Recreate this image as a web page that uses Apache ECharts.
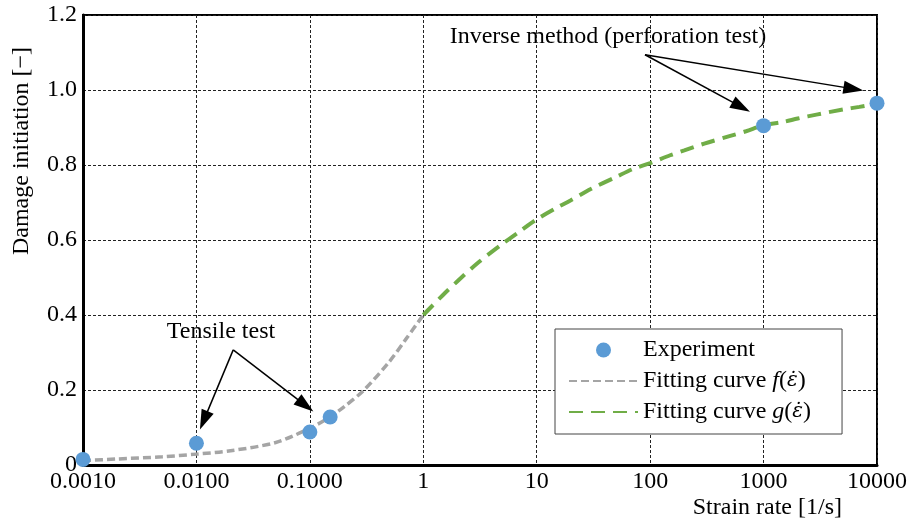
<!DOCTYPE html>
<html>
<head>
<meta charset="utf-8">
<script src="https://cdn.jsdelivr.net/npm/echarts@6/dist/echarts.min.js"></script>
<style>
  html, body { margin: 0; padding: 0; background: #fff; }
  #chart { width: 910px; height: 524px; }
</style>
</head>
<body>
<div id="chart"></div>
<script>
// Measured damage initiation at each strain rate
const expRate   = [0.001, 0.01, 0.1, 0.151, 1000, 10000];
const expDamage = [0.015, 0.058, 0.088, 0.128, 0.905, 0.965];

// Fitting curve f (quasi-static range, up to 1/s)
const fRate  = [0.001, 0.002, 0.005, 0.01, 0.02, 0.05, 0.1, 0.15, 0.2, 0.3, 0.5, 0.7, 1];
const fValue = [0.012, 0.016, 0.022, 0.029, 0.038, 0.060, 0.098, 0.128, 0.155, 0.200, 0.275, 0.335, 0.400];

// Fitting curve g (dynamic range, from 1/s)
const gRate  = [1, 1.5, 2, 3, 5, 7, 10, 15, 20, 30, 50, 70, 100, 150, 200, 300, 500, 700, 1000, 1500, 2000, 3000, 5000, 7000, 10000];
const gValue = [0.400, 0.454, 0.490, 0.538, 0.590, 0.622, 0.655, 0.686, 0.706, 0.736, 0.768, 0.789, 0.805, 0.826, 0.839, 0.857, 0.877, 0.890, 0.906, 0.915, 0.924, 0.935, 0.948, 0.955, 0.964];

// Axis tick labels
const xTickLabels = ['0.0010', '0.0100', '0.1000', '1', '10', '100', '1000', '10000'];
const yTickLabels = ['0', '0.2', '0.4', '0.6', '0.8', '1.0', '1.2'];

// Annotation arrows: tail and arrowhead centre in (strain rate, damage)
const tensileFrom = [0.0211, 0.307];
const tensileTo   = [[0.01161, 0.119], [0.0914, 0.159]];
const inverseFrom = [90.1, 1.094];
const inverseTo   = [[635, 0.955], [6194, 1.003]];

const FONT = 'Liberation Serif';
const FS = 24;
const zip = (xs, ys) => xs.map((x, i) => [x, ys[i]]);

const arrowLines = []
  .concat(tensileTo.map(t => [{ coord: tensileFrom }, { coord: t }]))
  .concat(inverseTo.map(t => [{ coord: inverseFrom }, { coord: t }]));

const chart = echarts.init(document.getElementById('chart'), null, { renderer: 'canvas' });

const gridStyle = { color: '#222', width: 1, type: [3, 2] };
const textFont = FS + 'px "' + FONT + '"';
const hiddenIcon = { color: 'rgba(0,0,0,0)', borderWidth: 0, opacity: 0 };

chart.setOption({
  animation: false,
  backgroundColor: '#fff',
  textStyle: { fontFamily: FONT },
  grid: {
    left: 83, right: 33, top: 15, bottom: 59,
    show: true, borderColor: '#000', borderWidth: 2, backgroundColor: 'transparent'
  },
  xAxis: {
    type: 'log',
    logBase: 10,
    min: 0.001,
    max: 10000,
    interval: 1,
    axisLine: { show: true, onZero: false, lineStyle: { color: '#000', width: 3 } },
    axisTick: { show: false },
    splitLine: { show: true, lineStyle: gridStyle },
    axisLabel: {
      fontFamily: FONT, fontSize: FS, color: '#000', margin: 5,
      formatter: v => xTickLabels[Math.round(Math.log10(v)) + 3]
    }
  },
  yAxis: {
    type: 'value',
    min: 0,
    max: 1.2,
    interval: 0.2,
    axisLine: { show: true, lineStyle: { color: '#000', width: 3 } },
    axisTick: { show: false },
    splitLine: { show: true, lineStyle: gridStyle },
    axisLabel: {
      fontFamily: FONT, fontSize: FS, color: '#000', margin: 6,
      formatter: v => yTickLabels[Math.round(v / 0.2)]
    }
  },
  legend: {
    orient: 'vertical',
    left: 555,
    top: 329,
    padding: [9, 31, 10, 13],
    itemWidth: 69,
    itemHeight: 15,
    itemGap: 7,
    backgroundColor: '#fff',
    borderColor: '#444',
    borderWidth: 1,
    borderRadius: 0,
    data: [
      { name: 'Experiment' },
      { name: 'Fitting curve f', itemStyle: hiddenIcon },
      { name: 'Fitting curve g', itemStyle: hiddenIcon }
    ],
    formatter: name => {
      if (name === 'Fitting curve f') return 'Fitting curve {i|f}({e|ε̇})';
      if (name === 'Fitting curve g') return 'Fitting curve {i|g}({e|ε̇})';
      return name;
    },
    textStyle: {
      fontFamily: FONT, fontSize: FS, color: '#000', lineHeight: 24,
      rich: {
        i: { fontFamily: FONT, fontSize: FS, fontStyle: 'italic', lineHeight: 24 },
        e: { fontFamily: 'DejaVu Serif', fontSize: 20, fontStyle: 'italic', lineHeight: 24 }
      }
    }
  },
  graphic: [
    {
      type: 'text', x: 22, y: 151, rotation: Math.PI / 2,
      style: { text: 'Damage initiation [−]', font: textFont, fill: '#000', textAlign: 'center', textVerticalAlign: 'middle' }
    },
    {
      type: 'text', x: 842, y: 508,
      style: { text: 'Strain rate [1/s]', font: textFont, fill: '#000', textAlign: 'right', textVerticalAlign: 'middle' }
    },
    {
      type: 'text', x: 608, y: 37,
      style: { text: 'Inverse method (perforation test)', font: textFont, fill: '#000', textAlign: 'center', textVerticalAlign: 'middle' }
    },
    {
      type: 'text', x: 221, y: 332,
      style: { text: 'Tensile test', font: textFont, fill: '#000', textAlign: 'center', textVerticalAlign: 'middle' }
    }
  ],
  series: [
    {
      name: 'Fitting curve f',
      type: 'line',
      data: zip(fRate, fValue),
      smooth: 0.3,
      symbol: 'none',
      z: 2,
      lineStyle: { color: '#a5a5a5', width: 3.5, type: [8, 4] },
      itemStyle: { color: '#a5a5a5' }
    },
    {
      name: 'Fitting curve g',
      type: 'line',
      data: zip(gRate, gValue),
      smooth: 0.3,
      symbol: 'none',
      z: 3,
      lineStyle: { color: '#70ad47', width: 4, type: [14, 8] },
      itemStyle: { color: '#70ad47' }
    },
    {
      name: 'Experiment',
      type: 'scatter',
      data: zip(expRate, expDamage),
      symbol: 'circle',
      symbolSize: 15,
      z: 5,
      itemStyle: { color: '#5b9bd5', opacity: 1 },
      markLine: {
        silent: true,
        animation: false,
        symbol: ['none', 'triangle'],
        symbolSize: [13, 20],
        label: { show: false },
        lineStyle: { color: '#000', width: 1.5, type: 'solid' },
        itemStyle: { color: '#000' },
        emphasis: { disabled: true },
        data: arrowLines
      }
    }
  ]
});
</script>
</body>
</html>
